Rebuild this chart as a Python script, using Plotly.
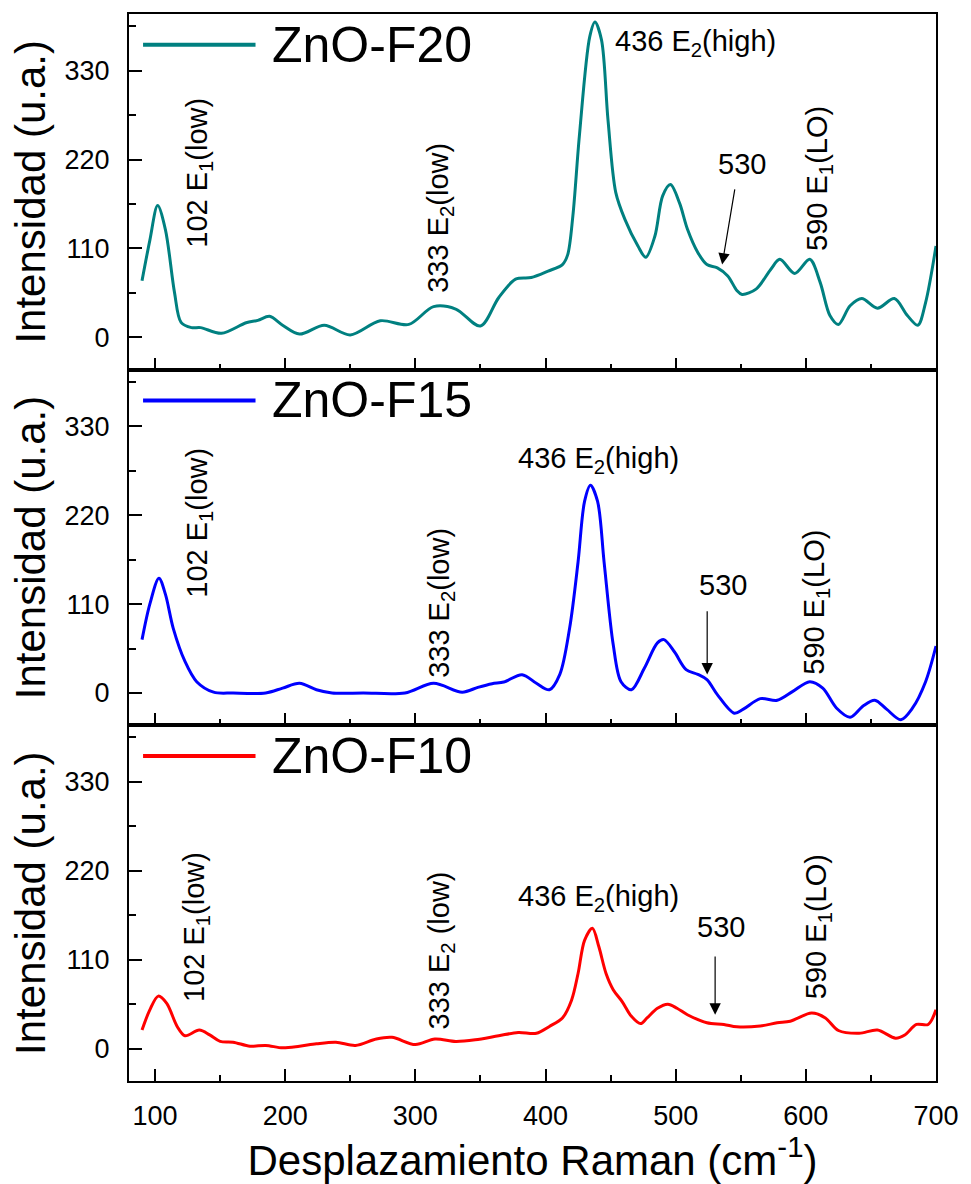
import plotly.graph_objects as go
from plotly.subplots import make_subplots

# ---------------- data ----------------
f20_x = [90, 96, 102, 108, 115, 120, 128, 135, 151, 170, 179, 188, 198, 211, 230, 250, 273, 295,
         314, 331, 350, 364, 377, 389, 402, 413, 417, 421, 426, 434, 438, 443, 448, 454, 461, 471, 477,
         484, 490, 496, 503, 509, 517, 524, 532, 540, 547, 551, 562, 573, 580, 591.5, 603, 611,
         618.5, 625, 634, 643, 655, 668, 678, 686, 692, 700]
f20_y = [70, 120, 163, 133, 55, 18.5, 12, 12, 5, 18, 21, 26, 15, 4, 15, 3, 20.5, 16,
         38, 35, 14, 49, 72, 74, 82, 90, 102, 150, 249, 372, 390, 368, 269, 179, 146, 113, 99,
         125, 175, 189, 166, 134, 105, 90, 86, 76, 58, 53, 60, 84, 96.5, 79, 96.5, 68,
         27, 16, 39, 48, 36, 48, 27, 15, 43, 113]

f15_x = [90, 96, 103, 108, 114, 123, 132, 145, 160, 185, 198, 211, 224, 236, 260, 292, 314, 336,
         348, 359, 368, 382, 393, 403, 411, 418.5, 425, 430, 434.5, 440, 445, 452, 458, 466, 476,
         486, 491, 499, 508, 517, 524, 532, 545, 552, 565, 578, 590, 603, 613, 623.5, 634, 644,
         653, 662, 673, 682, 692, 700]
f15_y = [66, 110, 142, 122, 80, 39, 14, 1, 0, 0, 6, 12, 4, 0, 0, 0, 12, 1,
         7, 11.5, 13.6, 22.7, 12, 4, 23, 80, 162, 237, 257, 237, 162, 60, 14, 4, 31,
         62, 66, 51, 29, 23, 16.5, -2, -25, -20, -7, -9, 2, 14, 6, -18.5, -30, -16,
         -9, -20, -33, -18.5, 14, 58]

f10_x = [90, 96, 102.5, 109, 117, 123, 134, 142, 150, 160, 173, 185, 198, 211, 224, 239, 254, 270,
         282, 300, 315, 331, 346, 364, 379, 393, 403, 413, 420, 425, 430, 436, 441, 446.5, 452,
         459, 466, 473, 478, 486, 494, 501, 509, 524, 537, 547, 565, 578, 588, 604.5, 615, 625,
         641, 655, 669, 676, 685, 694, 700]
f10_y = [23, 48, 65, 56, 27.5, 16, 23, 17, 9, 8, 3, 4, 1, 3, 6, 8, 4, 12,
         14, 5, 12, 9, 11, 16, 20, 19, 27.5, 38, 60, 93, 134, 149, 126, 93, 73,
         58, 40, 31, 38, 50, 55, 50, 42, 32, 30, 27, 28, 32, 34, 44, 38, 22.5,
         19, 23, 13, 17, 30, 30, 48]

series_names = ["ZnO-F20", "ZnO-F15", "ZnO-F10"]
series_colors = ["#008080", "#0000FF", "#FF0000"]

# peak labels: (text, x, y, angle) per panel
labels_f20 = [("102 E<sub>1</sub>(low)", 134, 204, -90),
              ("333 E<sub>2</sub>(low)", 319, 148, -90),
              ("436 E<sub>2</sub>(high)", 515, 364, 0),
              ("530", 551, 214, 0),
              ("590 E<sub>1</sub>(LO)", 610, 197, -90)]
labels_f15 = [("102 E<sub>1</sub>(low)", 134, 211, -90),
              ("333 E<sub>2</sub>(low)", 320, 112, -90),
              ("436 E<sub>2</sub>(high)", 441, 288, 0),
              ("530", 536, 134, 0),
              ("590 E<sub>1</sub>(LO)", 608, 112, -90)]
labels_f10 = [("102 E<sub>1</sub>(low)", 131, 151, -90),
              ("333 E<sub>2</sub> (low)", 320, 122, -90),
              ("436 E<sub>2</sub>(high)", 441, 186, 0),
              ("530", 535, 150, 0),
              ("590 E<sub>1</sub>(LO)", 609, 151, -90)]
# arrows for 530 band: (tip_x, tip_y, tail_x, tail_y)
arrows = [(535.7, 90, 545.6, 185), (524.2, 23, 524.2, 103), (530.3, 42, 530.3, 116)]

FONT = "Liberation Sans, Arial, Helvetica, sans-serif"

fig = make_subplots(rows=3, cols=1, shared_xaxes=True, vertical_spacing=0)

xs = [f20_x, f15_x, f10_x]
ys = [f20_y, f15_y, f10_y]
labels = [labels_f20, labels_f15, labels_f10]

for i in range(3):
    fig.add_trace(go.Scatter(x=xs[i], y=ys[i], mode="lines", name=series_names[i],
                             line=dict(color=series_colors[i], width=3, shape="spline", smoothing=0.9),
                             showlegend=False), row=i + 1, col=1)

annotations = []
shapes = []
for i in range(3):
    yref = "y" if i == 0 else f"y{i + 1}"
    xref = "x" if i == 0 else f"x{i + 1}"
    # legend-like sample line and name
    shapes.append(dict(type="line", xref=xref, yref=yref, x0=90.8, x1=177.2, y0=362, y1=362,
                       line=dict(color=series_colors[i], width=4)))
    annotations.append(dict(text=series_names[i], x=188, y=362, xref=xref, yref=yref,
                            xanchor="left", yanchor="middle", showarrow=False,
                            font=dict(family=FONT, size=50, color="black")))
    for (t, lx, ly, ang) in labels[i]:
        annotations.append(dict(text=t, x=lx, y=ly, xref=xref, yref=yref, showarrow=False,
                                textangle=ang, xanchor="center", yanchor="middle",
                                font=dict(family=FONT, size=29, color="black")))
    tx, ty, ax_, ay_ = arrows[i]
    annotations.append(dict(text="", x=tx, y=ty, xref=xref, yref=yref, ax=ax_, ay=ay_,
                            axref=xref, ayref=yref, showarrow=True, arrowhead=2, arrowsize=1.9,
                            arrowwidth=1.2, arrowcolor="black", standoff=0, startstandoff=0,
                            font=dict(size=1)))

axis_common = dict(showline=True, linewidth=2, linecolor="black", mirror=True,
                   ticks="inside", tickwidth=2, tickcolor="black", showgrid=False, zeroline=False,
                   tickfont=dict(family=FONT, size=27, color="black"))

for i in range(3):
    fig.update_xaxes(range=[80, 700], tick0=0, dtick=100, ticklen=12,
                     minor=dict(ticks="inside", dtick=50, tick0=0, ticklen=6, tickwidth=2, tickcolor="black"),
                     ticklabelstandoff=10,
                     **axis_common, row=i + 1, col=1)
    fig.update_yaxes(range=[-40, 400], tick0=0, dtick=110, ticklen=13,
                     minor=dict(ticks="inside", dtick=55, tick0=0, ticklen=7, tickwidth=2, tickcolor="black"),
                     ticklabelstandoff=12,
                     title=dict(text="Intensidad (u.a.)", font=dict(family=FONT, size=42, color="black"),
                                standoff=6),
                     **axis_common, row=i + 1, col=1)

fig.update_xaxes(title=dict(text="Desplazamiento Raman (cm<sup>-1</sup>)",
                            font=dict(family=FONT, size=42, color="black"), standoff=6),
                 row=3, col=1)

fig.update_layout(width=971, height=1184, margin=dict(l=129, r=31, t=12, b=103),
                  paper_bgcolor="white", plot_bgcolor="white",
                  annotations=annotations, shapes=shapes, showlegend=False,
                  font=dict(family=FONT, color="black"))

fig.write_html("out.html")
